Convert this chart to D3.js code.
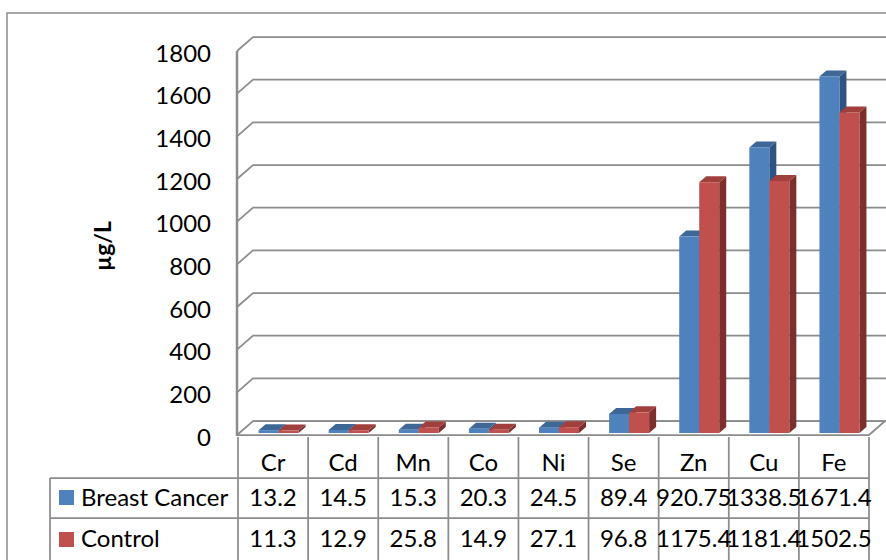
<!DOCTYPE html>
<html>
<head>
<meta charset="utf-8">
<script src="https://cdn.jsdelivr.net/npm/d3@7"></script>
<style>
  body { margin: 0; background: #fff; }
  svg { display: block; font-family: Lato, "Open Sans", sans-serif; }
</style>
</head>
<body>
<script>
var categories = ["Cr", "Cd", "Mn", "Co", "Ni", "Se", "Zn", "Cu", "Fe"],
    seriesNames = ["Breast Cancer", "Control"],
    breastCancer = [13.2, 14.5, 15.3, 20.3, 24.5, 89.4, 920.75, 1338.5, 1671.4],
    control = [11.3, 12.9, 25.8, 14.9, 27.1, 96.8, 1175.4, 1181.4, 1502.5],
    yTicks = [0, 200, 400, 600, 800, 1000, 1200, 1400, 1600, 1800];

var seriesValues = [breastCancer, control];

var width = 886,
    height = 560,
    gray = "#8c8c8c",
    wallDx = 16, wallDy = -14,   // depth of the 3d box
    barDx = 7, barDy = -6;       // depth of each column

var fronts = ["#4f81bd", "#c0504d"],
    tops = ["#3d6797", "#a03f3c"],
    sides = ["#2f5483", "#7d2f2d"];

var svg = d3.select("body").append("svg")
    .attr("width", width)
    .attr("height", height);

// outer chart border (runs off the picture right and bottom)
svg.append("rect")
    .attr("x", 7).attr("y", 13)
    .attr("width", 920).attr("height", 600)
    .attr("fill", "none")
    .attr("stroke", gray)
    .attr("stroke-width", 1.5);

var x = d3.scaleBand()
    .domain(categories)
    .range([238, 869]);

var xs = d3.scaleBand()
    .domain(seriesNames)
    .range([-14.5, 25.5]);

var y = d3.scaleLinear()
    .domain([0, 1800])
    .range([435, 51]);

var barBase = 433;
function yBar(v) { return barBase - (y(0) - y(v)); }

// back wall gridlines + side wall diagonals
var grid = svg.append("g")
    .attr("fill", "none")
    .attr("stroke", gray)
    .attr("stroke-width", 1.75);

grid.selectAll("path")
    .data(yTicks)
    .enter().append("path")
    .attr("d", function (d) {
        var y0 = y(d);
        return "M237," + y0 + "L" + (237 + wallDx) + "," + (y0 + wallDy) + "H" + (width + 5);
    });

// floor
grid.append("path")
    .attr("d", "M237," + y(0) + "H" + x.range()[1] +
        "L" + (x.range()[1] + wallDx) + "," + (y(0) + wallDy) +
        "M" + (237 + wallDx) + "," + (y(0) + wallDy) + "H" + (width + 5));

// vertical axis line
svg.append("line")
    .attr("x1", 237).attr("x2", 237)
    .attr("y1", y(1800)).attr("y2", y(0) + 1)
    .attr("stroke", gray)
    .attr("stroke-width", 2.5);

// y axis labels
var yAxis = svg.append("g")
    .attr("transform", "translate(237,0)")
    .call(d3.axisLeft(y).tickValues(yTicks).tickFormat(d3.format("d")).tickSize(0).tickPadding(26));
yAxis.select(".domain").remove();
yAxis.selectAll("text")
    .attr("dy", "10px")
    .attr("fill", "#000")
    .style("font-size", "24px")
    .style("font-family", "Lato, sans-serif");

// y axis title
svg.append("text")
    .attr("transform", "translate(111,246) rotate(-90)")
    .attr("text-anchor", "middle")
    .style("font-size", "23px")
    .style("font-weight", "bold")
    .text("\u00b5g/L");

// 3d columns
var bars = svg.append("g");
categories.forEach(function (c, i) {
    var cx = x(c) + x.bandwidth() / 2;
    seriesNames.forEach(function (s, j) {
        var v = seriesValues[j][i],
            x0 = cx + xs(s),
            x1 = x0 + xs.bandwidth(),
            yt = yBar(v),
            yb = barBase;
        var g = bars.append("g");
        g.append("path")
            .attr("fill", sides[j])
            .attr("d", "M" + x1 + "," + yt + "L" + (x1 + barDx) + "," + (yt + barDy) +
                "L" + (x1 + barDx) + "," + (yb + barDy) + "L" + x1 + "," + yb + "Z");
        g.append("path")
            .attr("fill", tops[j])
            .attr("d", "M" + x0 + "," + yt + "L" + (x0 + barDx) + "," + (yt + barDy) +
                "L" + (x1 + barDx) + "," + (yt + barDy) + "L" + x1 + "," + yt + "Z");
        g.append("rect")
            .attr("fill", fronts[j])
            .attr("x", x0).attr("y", yt)
            .attr("width", x1 - x0).attr("height", yb - yt);
    });
});

// data table
var rowTop = 437, rowA = 478, rowB = 518, rowEnd = height + 5;
var table = svg.append("g")
    .attr("stroke", gray)
    .attr("stroke-width", 1.75)
    .attr("fill", "none");

var colEdges = categories.map(function (c) { return x(c); }).concat([x.range()[1]]);
table.selectAll("line.v")
    .data(colEdges)
    .enter().append("line")
    .attr("x1", function (d) { return d; })
    .attr("x2", function (d) { return d; })
    .attr("y1", rowTop).attr("y2", rowEnd);

table.append("line").attr("x1", 50).attr("x2", 50).attr("y1", rowA).attr("y2", rowEnd);
[rowA, rowB].forEach(function (ry) {
    table.append("line").attr("x1", 50).attr("x2", x.range()[1]).attr("y1", ry).attr("y2", ry);
});

var txt = svg.append("g")
    .style("font-size", "24px")
    .attr("fill", "#000");

txt.selectAll("text.cat")
    .data(categories)
    .enter().append("text")
    .attr("x", function (d) { return x(d) + x.bandwidth() / 2; })
    .attr("y", 471)
    .attr("text-anchor", "middle")
    .text(function (d) { return d; });

var baselines = [506, 547],
    swatchY = [490, 532];

seriesNames.forEach(function (s, j) {
    txt.selectAll("text.v" + j)
        .data(seriesValues[j])
        .enter().append("text")
        .attr("x", function (d, i) { return x(categories[i]) + x.bandwidth() / 2; })
        .attr("y", baselines[j])
        .attr("text-anchor", "middle")
        .text(function (d) { return String(d); });

    svg.append("rect")
        .attr("x", 59).attr("y", swatchY[j])
        .attr("width", 15).attr("height", 15)
        .attr("fill", fronts[j]);

    txt.append("text")
        .attr("x", 81)
        .attr("y", baselines[j])
        .text(s);
});
</script>
</body>
</html>
